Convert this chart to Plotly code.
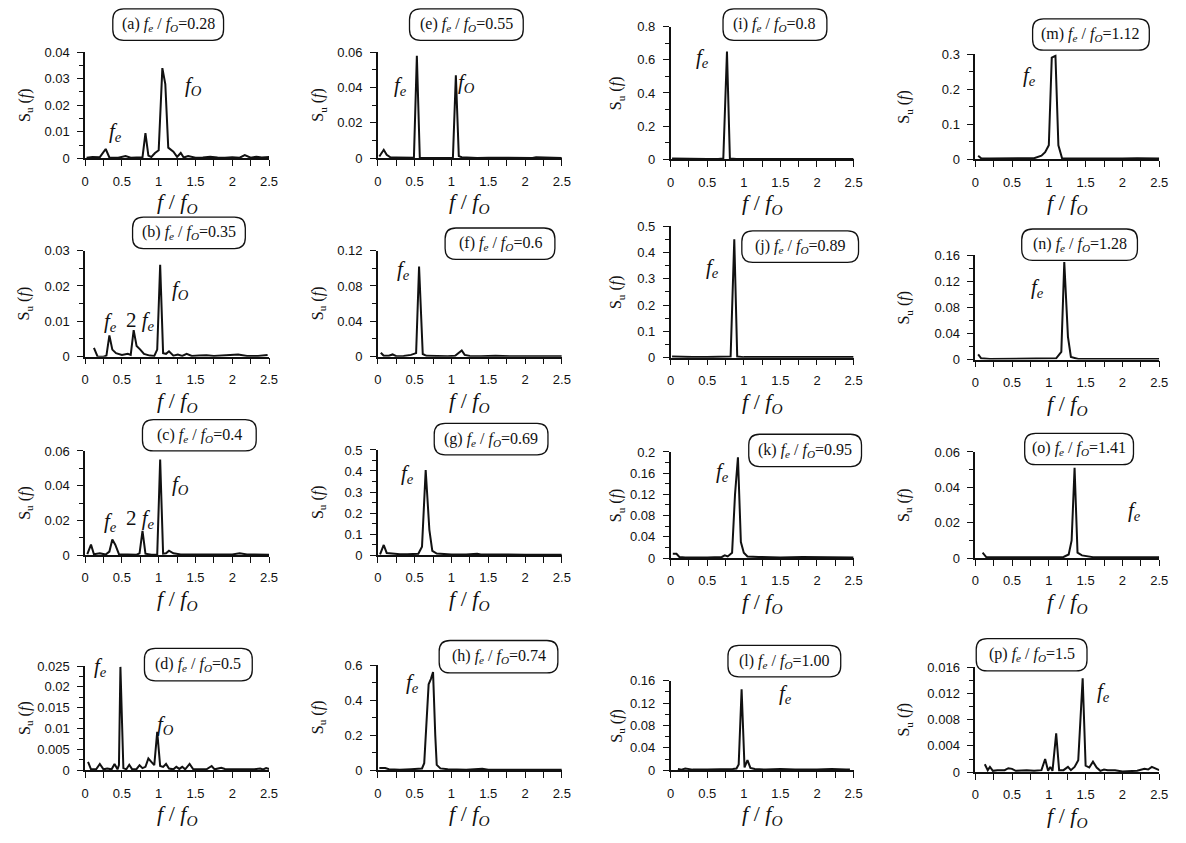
import plotly.graph_objects as go

W, H = 1186, 843

# ---- spectra: normalised frequency f/fo and spectral density Su(f) ----
a_ratio = [0.02, 0.1, 0.2, 0.28, 0.33, 0.45, 0.55, 0.62, 0.7, 0.78, 0.82, 0.86, 0.9, 0.95, 1.0, 1.05, 1.09, 1.13,
           1.2, 1.25, 1.3, 1.34, 1.4, 1.5, 1.6, 1.7, 1.8, 1.9, 2.0, 2.1, 2.17, 2.25, 2.33, 2.4, 2.5]
a_su = [0.0002, 0.0005, 0.0004, 0.0035, 0.0003, 0.0002, 0.0008, 0.0002, 0.0003, 0.0004, 0.0095, 0.001, 0.0005, 0.002,
        0.003, 0.034, 0.028, 0.004, 0.0025, 0.0005, 0.002, 0.0003, 0.0008, 0.0002, 0.0003, 0.0006, 0.0003, 0.0002,
        0.0004, 0.0002, 0.0012, 0.0002, 0.0006, 0.0003, 0.0005]

b_ratio = [0.12, 0.17, 0.25, 0.29, 0.33, 0.37, 0.42, 0.5, 0.58, 0.62, 0.66, 0.7, 0.75, 0.8, 0.88, 0.94, 0.98, 1.02,
           1.06, 1.1, 1.14, 1.2, 1.26, 1.32, 1.38, 1.45, 1.55, 1.65, 1.75, 1.9, 2.08, 2.2, 2.35, 2.48]
b_su = [0.0025, 0.0, 0.0, 0.0003, 0.006, 0.002, 0.001, 0.0005, 0.0008, 0.0005, 0.0075, 0.003, 0.002, 0.0008, 0.0003,
        0.0002, 0.002, 0.026, 0.001, 0.0008, 0.0015, 0.0003, 0.0006, 0.0002, 0.0008, 0.0002, 0.0003, 0.0004, 0.0002,
        0.0003, 0.0006, 0.0002, 0.0002, 0.0005]

c_ratio = [0.03, 0.08, 0.12, 0.2, 0.28, 0.33, 0.37, 0.41, 0.46, 0.55, 0.62, 0.7, 0.74, 0.78, 0.82, 0.9, 0.98, 1.02,
           1.06, 1.1, 1.14, 1.2, 1.3, 1.4, 1.5, 1.6, 1.7, 1.9, 2.0, 2.1, 2.2, 2.3, 2.5]
c_su = [0.0005, 0.006, 0.0005, 0.001, 0.0003, 0.002, 0.009, 0.006, 0.0005, 0.0005, 0.0003, 0.0002, 0.001, 0.014,
        0.0008, 0.0002, 0.0002, 0.055, 0.0008, 0.001, 0.0025, 0.001, 0.0004, 0.0004, 0.0003, 0.0003, 0.0002, 0.0002,
        0.0004, 0.001, 0.0004, 0.0003, 0.0002]

d_ratio = [0.04, 0.08, 0.15, 0.2, 0.25, 0.3, 0.36, 0.4, 0.44, 0.46, 0.48, 0.52, 0.56, 0.6, 0.64, 0.7, 0.74, 0.78,
           0.82, 0.86, 0.9, 0.94, 0.98, 1.02, 1.06, 1.1, 1.14, 1.2, 1.24, 1.28, 1.32, 1.36, 1.42, 1.47, 1.55, 1.65,
           1.72, 1.76, 1.85, 1.9, 2.0, 2.1, 2.2, 2.3, 2.38, 2.42, 2.46, 2.5]
d_su = [0.002, 0.0002, 0.0002, 0.0015, 0.0002, 0.0004, 0.0002, 0.0015, 0.0002, 0.0012, 0.0248, 0.0005, 0.0002,
        0.0013, 0.0002, 0.0003, 0.0012, 0.0005, 0.0008, 0.0028, 0.002, 0.0012, 0.0092, 0.001, 0.0008, 0.0015, 0.0004,
        0.0002, 0.0008, 0.0003, 0.0008, 0.0002, 0.0015, 0.0002, 0.0002, 0.0002, 0.001, 0.0002, 0.0006, 0.0003, 0.0002,
        0.0002, 0.0003, 0.0002, 0.0004, 0.0002, 0.0005, 0.0003]

e_ratio = [0.02, 0.08, 0.12, 0.17, 0.25, 0.35, 0.45, 0.49, 0.53, 0.57, 0.65, 0.8, 0.95, 1.02, 1.06, 1.1, 1.14, 1.2,
           1.35, 1.5, 1.7, 1.9, 2.1, 2.15, 2.3, 2.5]
e_su = [0.001, 0.0048, 0.002, 0.0005, 0.0004, 0.0003, 0.0004, 0.0003, 0.058, 0.0003, 0.0002, 0.0003, 0.0002, 0.0003,
        0.047, 0.0012, 0.0006, 0.0004, 0.0002, 0.0003, 0.0002, 0.0003, 0.0002, 0.0005, 0.0002, 0.0002]

f_ratio = [0.04, 0.08, 0.15, 0.2, 0.25, 0.35, 0.45, 0.5, 0.52, 0.56, 0.61, 0.66, 0.8, 0.95, 1.05, 1.1, 1.14, 1.18,
           1.25, 1.4, 1.6, 1.8, 2.0, 2.2, 2.5]
f_su = [0.0045, 0.001, 0.001, 0.0025, 0.0005, 0.0008, 0.002, 0.003, 0.004, 0.102, 0.003, 0.001, 0.0005, 0.0005,
        0.001, 0.004, 0.007, 0.002, 0.0008, 0.0005, 0.001, 0.0005, 0.0005, 0.0004, 0.0004]

g_ratio = [0.03, 0.08, 0.12, 0.2, 0.3, 0.4, 0.5, 0.55, 0.6, 0.65, 0.7, 0.74, 0.8, 0.9, 1.0, 1.2, 1.35, 1.4, 1.6,
           2.0, 2.5]
g_su = [0.003, 0.048, 0.01, 0.006, 0.004, 0.004, 0.005, 0.006, 0.04, 0.405, 0.12, 0.02, 0.007, 0.004, 0.003, 0.003,
        0.006, 0.003, 0.002, 0.002, 0.002]

h_ratio = [0.02, 0.1, 0.15, 0.3, 0.45, 0.55, 0.6, 0.63, 0.66, 0.69, 0.72, 0.75, 0.78, 0.8, 0.85, 0.95, 1.2, 1.42,
           1.5, 2.0, 2.5]
h_su = [0.012, 0.012, 0.005, 0.003, 0.006, 0.006, 0.01, 0.04, 0.25, 0.49, 0.52, 0.56, 0.2, 0.03, 0.01, 0.005, 0.003,
        0.008, 0.003, 0.002, 0.002]

i_ratio = [0.02, 0.1, 0.3, 0.5, 0.65, 0.72, 0.77, 0.81, 0.9, 1.2, 1.5, 2.0, 2.5]
i_su = [0.004, 0.003, 0.002, 0.002, 0.002, 0.004, 0.65, 0.004, 0.002, 0.002, 0.002, 0.002, 0.002]

j_ratio = [0.02, 0.1, 0.3, 0.5, 0.7, 0.82, 0.87, 0.91, 1.0, 1.2, 1.5, 2.0, 2.5]
j_su = [0.004, 0.003, 0.002, 0.002, 0.002, 0.004, 0.45, 0.004, 0.002, 0.002, 0.002, 0.002, 0.002]

k_ratio = [0.03, 0.08, 0.12, 0.2, 0.5, 0.7, 0.74, 0.78, 0.84, 0.88, 0.92, 0.96, 1.0, 1.05, 1.2, 1.5, 1.8, 2.1, 2.5]
k_su = [0.008, 0.008, 0.002, 0.001, 0.001, 0.002, 0.005, 0.003, 0.01, 0.12, 0.19, 0.03, 0.01, 0.003, 0.002, 0.001,
        0.002, 0.001, 0.001]

l_ratio = [0.1, 0.15, 0.2, 0.3, 0.5, 0.7, 0.85, 0.9, 0.93, 0.97, 1.01, 1.05, 1.09, 1.15, 1.3, 1.5, 1.7, 2.0, 2.2,
           2.4, 2.45]
l_su = [0.002, 0.001, 0.003, 0.001, 0.001, 0.001, 0.002, 0.003, 0.01, 0.145, 0.005, 0.018, 0.004, 0.002, 0.001,
        0.002, 0.001, 0.001, 0.002, 0.001, 0.001]

m_ratio = [0.04, 0.08, 0.2, 0.5, 0.8, 0.9, 0.95, 1.0, 1.04, 1.09, 1.13, 1.18, 1.5, 2.0, 2.2, 2.5]
m_su = [0.01, 0.003, 0.002, 0.002, 0.003, 0.01, 0.02, 0.04, 0.29, 0.295, 0.04, 0.003, 0.002, 0.002, 0.003, 0.002]

n_ratio = [0.04, 0.08, 0.2, 0.5, 1.0, 1.1, 1.17, 1.21, 1.26, 1.3, 1.4, 1.6, 2.0, 2.5]
n_su = [0.008, 0.002, 0.001, 0.001, 0.001, 0.002, 0.012, 0.15, 0.035, 0.004, 0.001, 0.001, 0.001, 0.001]

o_ratio = [0.1, 0.15, 0.3, 0.6, 1.0, 1.2, 1.27, 1.31, 1.35, 1.39, 1.45, 1.6, 2.0, 2.5]
o_su = [0.003, 0.0005, 0.0004, 0.0004, 0.0004, 0.0006, 0.002, 0.01, 0.051, 0.003, 0.0015, 0.0005, 0.0004, 0.0004]

p_ratio = [0.13, 0.17, 0.2, 0.24, 0.3, 0.4, 0.45, 0.5, 0.55, 0.7, 0.8, 0.9, 0.95, 0.99, 1.02, 1.05, 1.1, 1.14, 1.2,
           1.26, 1.3, 1.35, 1.4, 1.46, 1.5, 1.55, 1.6, 1.65, 1.7, 1.75, 1.8, 1.9, 2.0, 2.1, 2.2, 2.3, 2.35, 2.4, 2.45,
           2.5]
p_su = [0.0012, 0.0003, 0.0008, 0.0002, 0.0003, 0.0003, 0.0006, 0.0005, 0.0002, 0.0003, 0.0002, 0.0003, 0.002,
        0.0002, 0.0008, 0.0002, 0.0059, 0.0003, 0.0003, 0.0008, 0.0003, 0.0008, 0.0018, 0.0143, 0.001, 0.0007,
        0.0016, 0.0007, 0.0002, 0.0004, 0.0003, 0.0003, 0.0001, 0.0002, 0.0002, 0.0005, 0.0004, 0.0008, 0.0006,
        0.0003]

# excitation ratios and y-axis scales of each panel
tags = ["a", "b", "c", "d", "e", "f", "g", "h", "i", "j", "k", "l", "m", "n", "o", "p"]
ratio_text = ["0.28", "0.35", "0.4", "0.5", "0.55", "0.6", "0.69", "0.74",
              "0.8", "0.89", "0.95", "1.00", "1.12", "1.28", "1.41", "1.5"]
y_max = [0.04, 0.03, 0.06, 0.025, 0.06, 0.12, 0.5, 0.6, 0.8, 0.5, 0.2, 0.16, 0.3, 0.16, 0.06, 0.016]
y_step = [0.01, 0.01, 0.02, 0.005, 0.02, 0.04, 0.1, 0.2, 0.2, 0.1, 0.04, 0.04, 0.1, 0.04, 0.02, 0.004]
y_minor = [0.005, 0.005, 0.01, 0.0025, 0.01, 0.02, 0.05, 0.1, 0.1, 0.05, 0.02, 0.02, 0.05, 0.02, 0.01, 0.002]
x_ticks = [0, 0.5, 1, 1.5, 2, 2.5]

series = [(a_ratio, a_su), (b_ratio, b_su), (c_ratio, c_su), (d_ratio, d_su),
          (e_ratio, e_su), (f_ratio, f_su), (g_ratio, g_su), (h_ratio, h_su),
          (i_ratio, i_su), (j_ratio, j_su), (k_ratio, k_su), (l_ratio, l_su),
          (m_ratio, m_su), (n_ratio, n_su), (o_ratio, o_su), (p_ratio, p_su)]

FE = "<i>f<sub>e</sub></i>"
FO = "<i>f<sub>O</sub></i>"

# ---- page geometry in pixels ----
col_x = [(82, 268), (378, 564), (674, 859), (982, 1168)]
col_title_x = [21, 318, 620, 911]
# (top of y axis, zero line) for every panel, column by column
rows_px = [(46, 154), (248, 356), (452, 558), (671, 777),
           (46, 154), (248, 356), (451, 558), (670, 777),
           (20, 155), (223, 357), (453, 561), (686, 777),
           (48, 155), (253, 359), (453, 561), (672, 779)]
# rounded boxes holding the panel captions (x0, y0, x1, y1)
boxes = [(110, 2, 222, 34), (130, 214, 244, 246), (140, 420, 255, 452), (142, 653, 251, 686),
         (410, 2, 525, 34), (446, 225, 557, 257), (435, 424, 550, 456), (440, 645, 560, 678),
         (727, 2, 832, 34), (746, 228, 864, 260), (753, 435, 867, 468), (732, 650, 846, 682),
         (1040, 12, 1158, 44), (1029, 226, 1146, 258), (1032, 434, 1142, 466), (983, 643, 1095, 676)]
# peak labels: (text, x, y)
peak_labels = [
    [(FE, 113, 127), (FO, 192, 80)],
    [(FE, 108, 321), ("2 " + FE, 138, 320), (FO, 178, 288)],
    [(FE, 108, 524), ("2 " + FE, 138, 521), (FO, 178, 487)],
    [(FE, 98, 672), (FO, 163, 731)],
    [(FE, 401, 80), (FO, 468, 77)],
    [(FE, 404, 268)],
    [(FE, 408, 475)],
    [(FE, 413, 688)],
    [(FE, 706, 52)],
    [(FE, 716, 266)],
    [(FE, 726, 473)],
    [(FE, 790, 699)],
    [(FE, 1037, 70)],
    [(FE, 1045, 286)],
    [(FE, 1143, 513)],
    [(FE, 1112, 697)],
]

SERIF = "Liberation Serif"
SANS = "Liberation Sans"
INK = "#111111"


def px(x):
    return x / W


def py(y):
    return 1 - y / H


def rounded_path(x0, y0, x1, y1, r):
    pts = [("M", x0 + r, y0), ("L", x1 - r, y0), ("Q", x1, y0, x1, y0 + r), ("L", x1, y1 - r),
           ("Q", x1, y1, x1 - r, y1), ("L", x0 + r, y1), ("Q", x0, y1, x0, y1 - r), ("L", x0, y0 + r),
           ("Q", x0, y0, x0 + r, y0)]
    out = []
    for p in pts:
        cmd, coords = p[0], p[1:]
        vals = [f"{px(coords[k]):.5f},{py(coords[k + 1]):.5f}" for k in range(0, len(coords), 2)]
        out.append(cmd + " ".join(vals))
    return " ".join(out) + " Z"


def label(x, y, text, size, angle=0, family=SERIF):
    return dict(x=px(x), y=py(y), xref="paper", yref="paper", text=text, showarrow=False,
                xanchor="center", yanchor="middle", textangle=angle,
                font=dict(family=family, size=size, color=INK))


fig = go.Figure()
annotations = []
shapes = []

for i, tag in enumerate(tags):
    col = i // 4
    x0, x1 = col_x[col]
    ytop, yzero = rows_px[i]
    xs, ys = series[i]
    n = i + 1
    xa = "x" if n == 1 else f"x{n}"
    ya = "y" if n == 1 else f"y{n}"
    fig.add_trace(go.Scatter(x=xs, y=ys, mode="lines", xaxis=xa, yaxis=ya,
                             line=dict(color=INK, width=2), showlegend=False, hoverinfo="skip"))
    xkey = "xaxis" if n == 1 else f"xaxis{n}"
    ykey = "yaxis" if n == 1 else f"yaxis{n}"
    fig.layout[xkey] = dict(
        domain=[px(x0), px(x1)], anchor=ya, range=[0, 2.5], tickvals=x_ticks,
        ticktext=[f"{v:g}" for v in x_ticks], showgrid=False, zeroline=False,
        showline=True, linecolor=INK, linewidth=1.5, ticks="outside", ticklen=6,
        tickwidth=1.3, tickcolor=INK, ticklabelstandoff=4,
        tickfont=dict(family=SANS, size=13, color=INK),
        minor=dict(dtick=0.25, tick0=0, ticks="outside", ticklen=6, tickwidth=1.3, tickcolor=INK),
        fixedrange=True,
    )
    fig.layout[ykey] = dict(
        domain=[py(yzero), py(ytop)], anchor=xa, range=[0, y_max[i]], dtick=y_step[i], tick0=0,
        showgrid=False, zeroline=False, showline=True, linecolor=INK, linewidth=1.5,
        ticks="outside", ticklen=6, tickwidth=1.3, tickcolor=INK, ticklabelstandoff=5,
        tickfont=dict(family=SANS, size=13, color=INK),
        minor=dict(dtick=y_minor[i], tick0=0, ticks="outside", ticklen=4, tickwidth=1.1, tickcolor=INK),
        fixedrange=True,
    )
    # axis titles
    annotations.append(label((x0 + x1) / 2, yzero + 46, "<i>f</i> / <i>f<sub>O</sub></i>", 22))
    annotations.append(label(col_title_x[col], (ytop + yzero) / 2, "S<sub>u</sub> (<i>f</i>)", 16, angle=-90))
    # caption box
    bx0, by0, bx1, by1 = boxes[i]
    shapes.append(dict(type="path", xref="paper", yref="paper", path=rounded_path(bx0, by0, bx1, by1, 11),
                       line=dict(color=INK, width=1.3), fillcolor="white", layer="above"))
    annotations.append(label((bx0 + bx1) / 2, (by0 + by1) / 2, f"({tag}) {FE} / {FO}={ratio_text[i]}", 16))
    for txt, lx, ly in peak_labels[i]:
        annotations.append(label(lx, ly, txt, 21))

fig.update_layout(
    width=W, height=H, margin=dict(l=0, r=0, t=0, b=0),
    paper_bgcolor="white", plot_bgcolor="white",
    annotations=annotations, shapes=shapes, showlegend=False,
)

fig.write_html("out.html", config={"responsive": False, "displayModeBar": False},
               post_script="document.body.style.margin='0';document.body.style.overflow='hidden';")
